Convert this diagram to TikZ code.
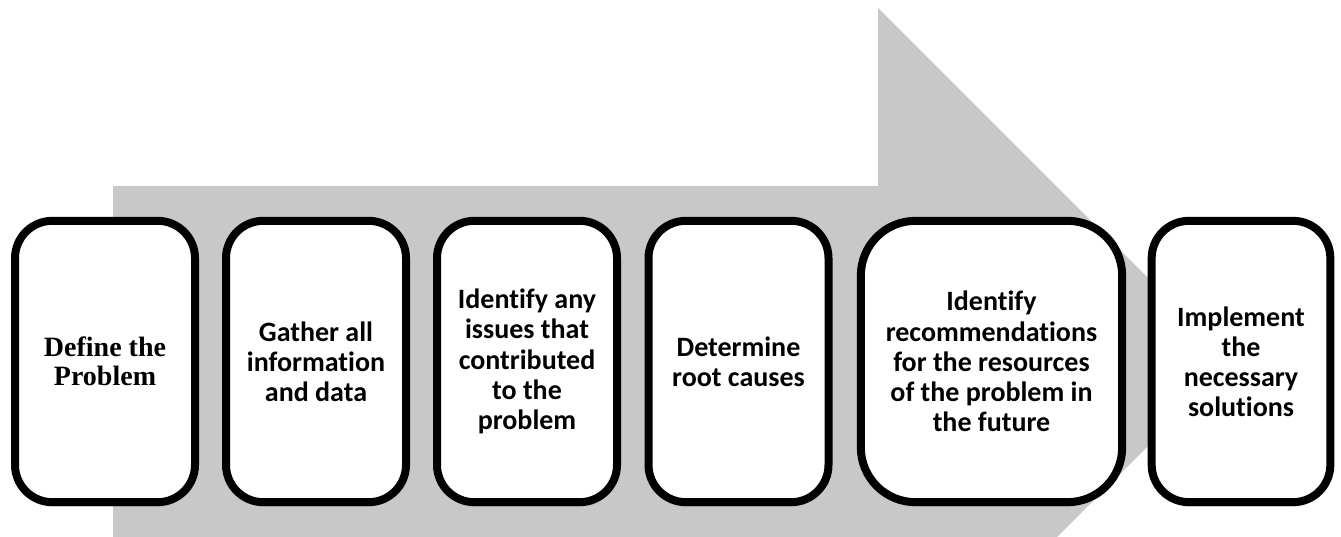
\documentclass[tikz,border=0pt]{standalone}
\usepackage{fontspec}
\setmainfont[Ligatures=NoCommon]{Carlito}
\newfontfamily\serifcard{Liberation Serif}
\usetikzlibrary{shadows}
\definecolor{arrowgray}{RGB}{200,200,200}

\begin{document}
\begin{tikzpicture}[x=0.75pt,y=0.75pt,
		stepcard/.style={draw=black,fill=white,line width=6pt,rounded corners=28pt,
			minimum width=135pt,minimum height=211pt,align=center,inner sep=0pt,
			font=\fontsize{21}{22.6}\selectfont\bfseries,
			drop shadow={opacity=0.22,shadow xshift=0pt,shadow yshift=-3.5pt}}]
		\useasboundingbox (0,0) rectangle (1341,536);
		\clip (0,0) rectangle (1341,536);
		% the big gray arrow behind the cards
		\fill [arrowgray] (113,-10) -- (113,350) -- (878,350) -- (878,528) -- (1232,174) -- (878,-180) -- (878,-10) -- cycle;
		% the six steps
		\node [stepcard,font=\fontsize{21}{21.75}\selectfont\serifcard\bfseries] (define) at (105,174.5) {Define the\\Problem};
		\node [stepcard] (gather) at (316,174.5) {Gather all\\information\\and data};
		\node [stepcard] (issues) at (527,174.5) {Identify any\\issues that\\contributed\\to the\\problem};
		\node [stepcard] (causes) at (738.5,174.5) {Determine\\root causes};
		\node [stepcard,minimum width=196pt,rounded corners=41pt] (recommend) at (991.5,174.5) {Identify\\recommendations\\for the resources\\of the problem in\\the future};
		\node [stepcard,minimum width=134pt] (implement) at (1241,174.5) {Implement\\the\\necessary\\solutions};
	\end{tikzpicture}
\end{document}
